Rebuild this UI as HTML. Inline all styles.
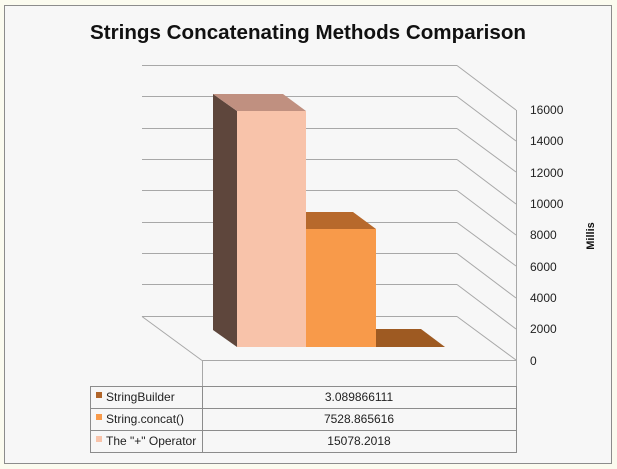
<!DOCTYPE html>
<html><head><style>
html,body{margin:0;padding:0;background:#fbfbef;}
svg{display:block;}
text{font-family:"Liberation Sans",sans-serif;}
</style></head><body>
<svg width="617" height="469" xmlns="http://www.w3.org/2000/svg">
<rect x="4.5" y="5.5" width="607" height="458" fill="#f7f7f7" stroke="#8c8c8c" stroke-width="1"/>
<text x="308" y="39" text-anchor="middle" font-size="20" font-weight="bold" fill="#111" textLength="436" lengthAdjust="spacingAndGlyphs">Strings Concatenating Methods Comparison</text>
<g stroke="#a8a8a8" stroke-width="1" fill="none">
<line x1="142" y1="65.5" x2="457" y2="65.5"/><line x1="457" y1="65.5" x2="516" y2="110"/>
<line x1="142" y1="96.5" x2="457" y2="96.5"/><line x1="457" y1="96.5" x2="516" y2="141"/>
<line x1="142" y1="128.5" x2="457" y2="128.5"/><line x1="457" y1="128.5" x2="516" y2="172"/>
<line x1="142" y1="159.5" x2="457" y2="159.5"/><line x1="457" y1="159.5" x2="516" y2="204"/>
<line x1="142" y1="190.5" x2="457" y2="190.5"/><line x1="457" y1="190.5" x2="516" y2="235"/>
<line x1="142" y1="222.5" x2="457" y2="222.5"/><line x1="457" y1="222.5" x2="516" y2="266"/>
<line x1="142" y1="253.5" x2="457" y2="253.5"/><line x1="457" y1="253.5" x2="516" y2="298"/>
<line x1="142" y1="284.5" x2="457" y2="284.5"/><line x1="457" y1="284.5" x2="516" y2="329"/>
<line x1="142" y1="316.5" x2="457" y2="316.5"/><line x1="457" y1="316.5" x2="516" y2="360"/>
<line x1="142" y1="316.5" x2="202" y2="360.5"/>
<line x1="202" y1="360.5" x2="516" y2="360.5"/>
<line x1="202.5" y1="360" x2="202.5" y2="386"/>
<line x1="516.5" y1="110" x2="516.5" y2="386"/>
</g>
<polygon points="213,94 237,111 237,347 213,330" fill="#5e463c"/>
<polygon points="213,94 283,94 306,111 237,111" fill="#c09080"/>
<rect x="237" y="111" width="69" height="236" fill="#f8c3aa"/>
<polygon points="306,212 353,212 376,229 306,229" fill="#b7692c"/>
<rect x="306" y="229" width="70" height="118" fill="#f89a4a"/>
<polygon points="376,329 421,329 445,347 376,347" fill="#9e5a22"/>
<g font-size="12" fill="#222">
<text x="530" y="114">16000</text><text x="530" y="145">14000</text><text x="530" y="177">12000</text><text x="530" y="208">10000</text>
<text x="530" y="239">8000</text><text x="530" y="271">6000</text><text x="530" y="302">4000</text><text x="530" y="333">2000</text><text x="530" y="365">0</text>
</g>
<text transform="translate(594,236) rotate(-90)" text-anchor="middle" font-size="11" font-weight="bold" fill="#111">Millis</text>
<g stroke="#8c8c8c" fill="none">
<rect x="90.5" y="386.5" width="426" height="66"/>
<line x1="90" y1="408.5" x2="517" y2="408.5"/>
<line x1="90" y1="430.5" x2="517" y2="430.5"/>
<line x1="202.5" y1="386" x2="202.5" y2="453"/>
</g>
<rect x="96" y="392" width="6" height="6" fill="#b0652a"/>
<rect x="96" y="414" width="6" height="6" fill="#f89a4a"/>
<rect x="96" y="436" width="6" height="6" fill="#f8c3aa"/>
<g font-size="12" fill="#222">
<text x="106" y="401">StringBuilder</text>
<text x="106" y="423">String.concat()</text>
<text x="106" y="445">The "+" Operator</text>
<text x="359" y="401" text-anchor="middle">3.089866111</text>
<text x="359" y="423" text-anchor="middle">7528.865616</text>
<text x="359" y="445" text-anchor="middle">15078.2018</text>
</g>
</svg>
</body></html>
